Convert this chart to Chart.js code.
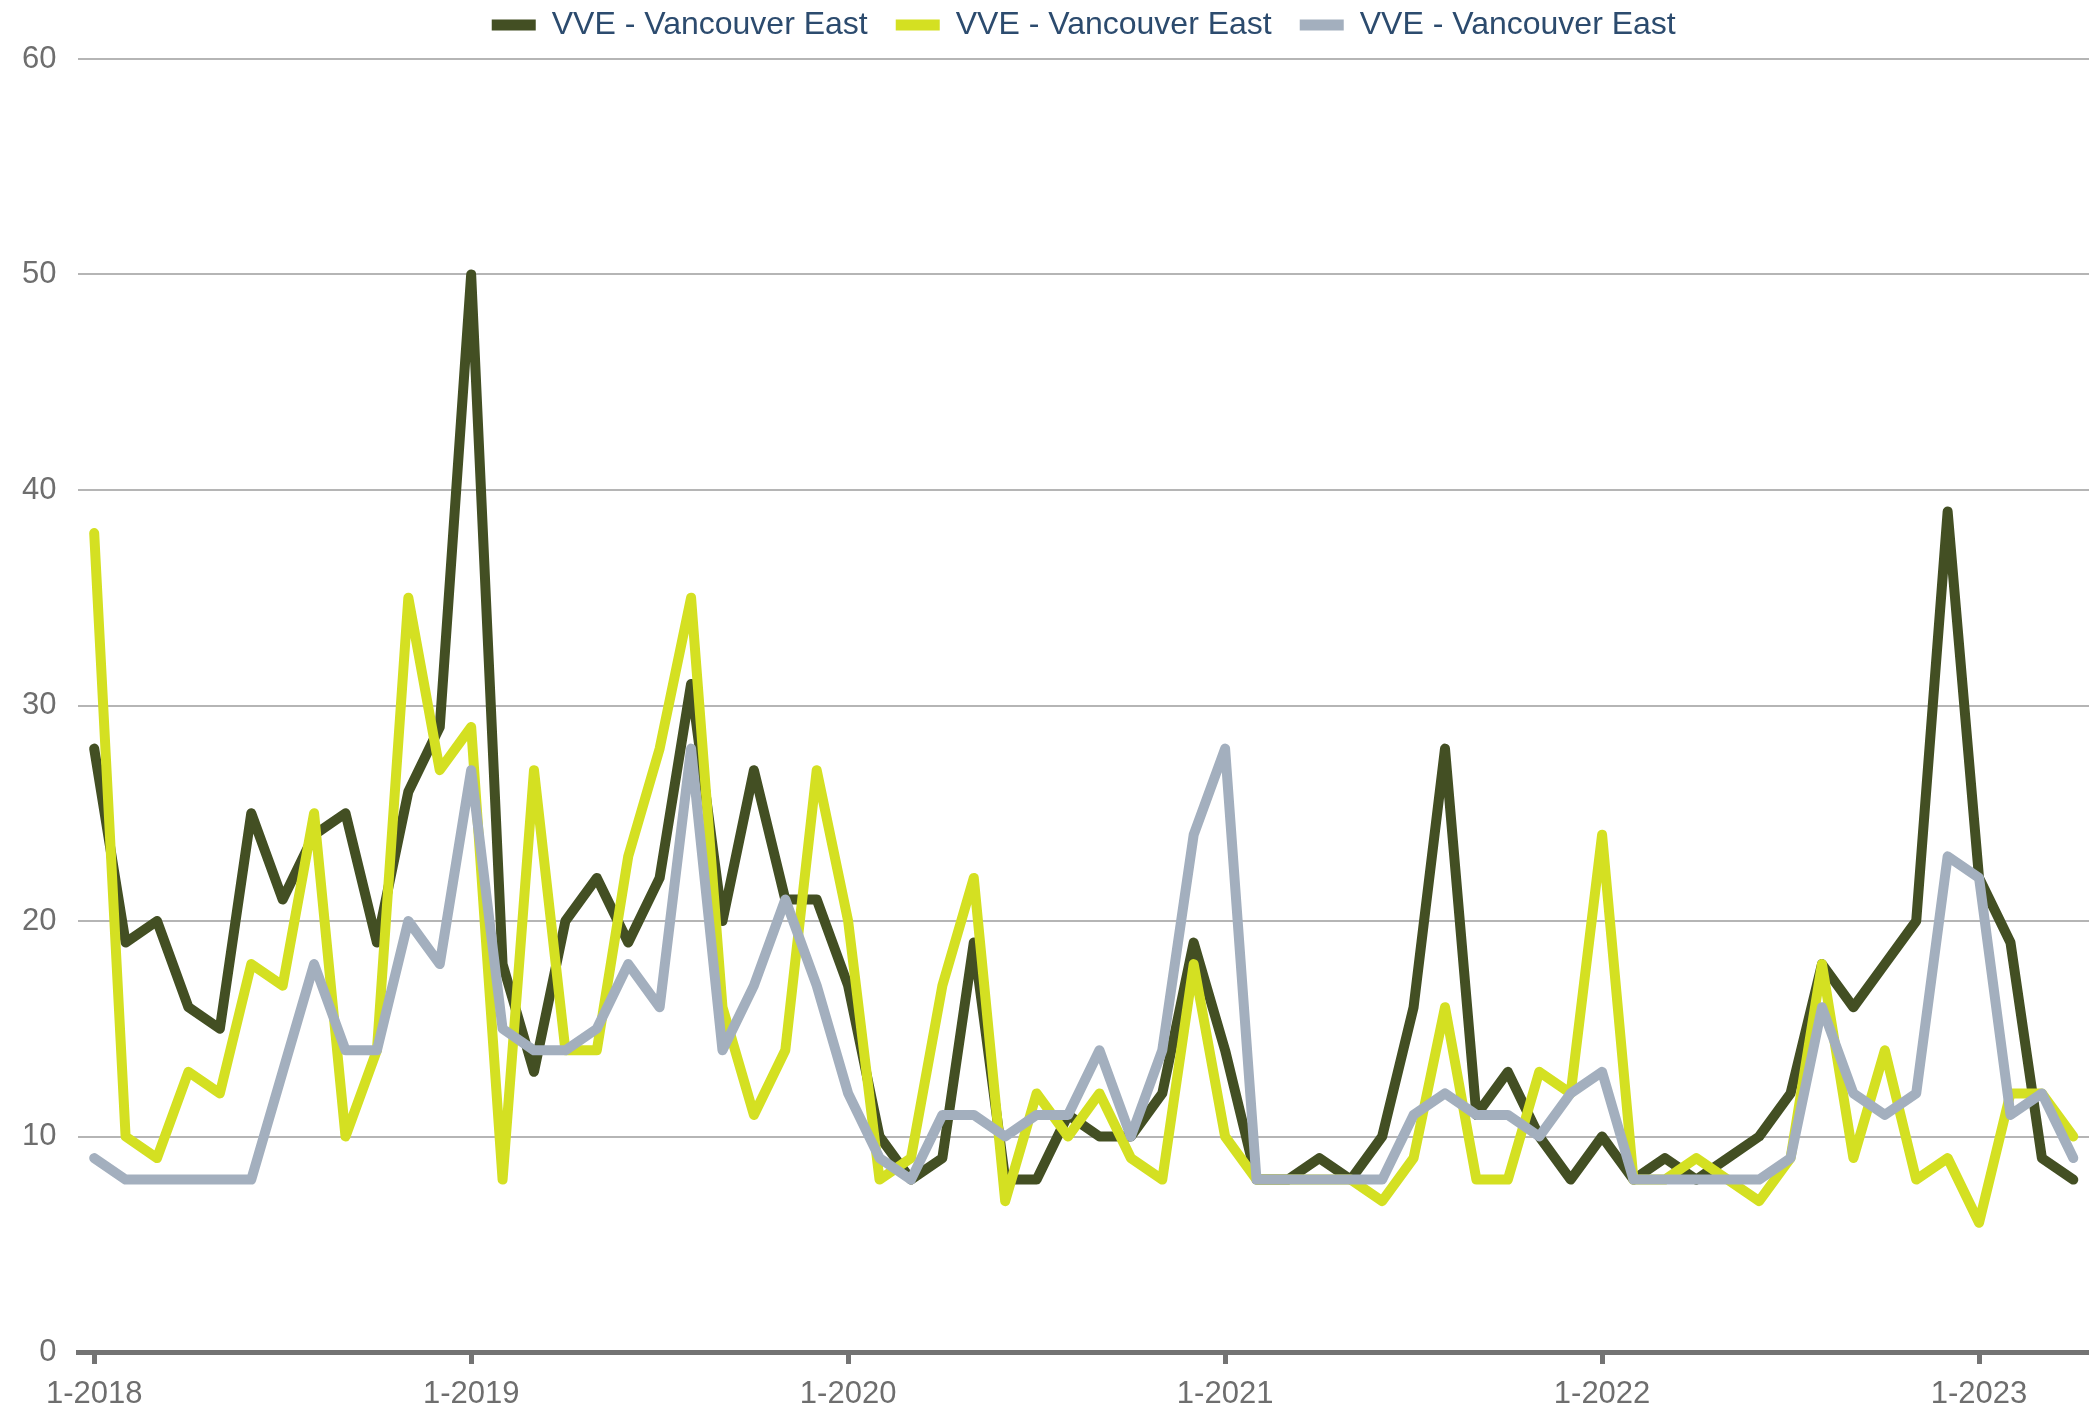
<!DOCTYPE html>
<html>
<head>
<meta charset="utf-8">
<script src="https://cdn.jsdelivr.net/npm/chart.js@4.4.0/dist/chart.umd.min.js"></script>
<style>
  html, body { margin: 0; padding: 0; background: #fff; overflow: hidden; }
  #wrap { width: 2089px; height: 1408px; position: relative; }
</style>
</head>
<body>
<div id="wrap"><canvas id="chart"></canvas></div>
<script>
// monthly labels 1-2018 .. 4-2023
var months = [];
for (var y = 2018; y <= 2023; y++) {
    for (var m = 1; m <= 12; m++) {
        if (y === 2023 && m > 4) break;
        months.push(m + '-' + y);
    }
}

var seriesName = 'VVE - Vancouver East';

var darkValues = [28, 19, 20, 16, 15, 25, 21, 24, 25, 19, 26, 29,
                  50, 18, 13, 20, 22, 19, 22, 31, 20, 27, 21, 21,
                  17, 10, 8, 9, 19, 8, 8, 11, 10, 10, 12, 19,
                  14, 8, 8, 9, 8, 10, 16, 28, 11, 13, 10, 8,
                  10, 8, 9, 8, 9, 10, 12, 18, 16, 18, 20, 39,
                  22, 19, 9, 8];

var limeValues = [38, 10, 9, 13, 12, 18, 17, 25, 10, 14, 35, 27,
                  29, 8, 27, 14, 14, 23, 28, 35, 16, 11, 14, 27,
                  20, 8, 9, 17, 22, 7, 12, 10, 12, 9, 8, 18,
                  10, 8, 8, 8, 8, 7, 9, 16, 8, 8, 13, 12,
                  24, 8, 8, 9, 8, 7, 9, 18, 9, 14, 8, 9,
                  6, 12, 12, 10];

var greyValues = [9, 8, 8, 8, 8, 8, 13, 18, 14, 14, 20, 18,
                  27, 15, 14, 14, 15, 18, 16, 28, 14, 17, 21, 17,
                  12, 9, 8, 11, 11, 10, 11, 11, 14, 10, 14, 24,
                  28, 8, 8, 8, 8, 8, 11, 12, 11, 11, 10, 12,
                  13, 8, 8, 8, 8, 8, 9, 16, 12, 11, 12, 23,
                  22, 11, 12, 9];

var yTicks = [0, 10, 20, 30, 40, 50, 60];

// legend box height fix + center legend over the plot area
const legendTweak = {
    id: 'legendTweak',
    beforeLayout(chart) {
        var lg = chart.legend;
        if (lg && !lg._tweaked) {
            var fit = lg.fit;
            lg.fit = function() { fit.call(this); this.height += 8; };
            lg._tweaked = true;
        }
    },
    afterLayout(chart) {
        if (chart.legend) chart.legend.left = chart.chartArea.left;
    }
};

function line(label, data, color, order) {
    return {
        label: label,
        data: data,
        borderColor: color,
        backgroundColor: color,
        borderWidth: 10,
        pointRadius: 0,
        pointHoverRadius: 0,
        tension: 0,
        fill: false,
        borderJoinStyle: 'round',
        borderCapStyle: 'round',
        order: order
    };
}

var ctx = document.getElementById('chart').getContext('2d');
var chart = new Chart(ctx, {
    type: 'line',
    data: {
        labels: months,
        datasets: [
            line(seriesName, darkValues, '#434f23', 3),
            line(seriesName, limeValues, '#d4e022', 2),
            line(seriesName, greyValues, '#a3afbe', 1)
        ]
    },
    plugins: [legendTweak],
    options: {
        responsive: true,
        maintainAspectRatio: false,
        animation: false,
        devicePixelRatio: 1,
        layout: { padding: { left: 0, right: 0, top: -19, bottom: -17 } },
        plugins: {
            tooltip: { enabled: false },
            legend: {
                position: 'top',
                labels: {
                    boxWidth: 44,
                    boxHeight: 11,
                    padding: 28,
                    color: '#2c4b6e',
                    font: { family: 'Liberation Sans', size: 32 },
                    generateLabels: function(chart) {
                        var items = Chart.defaults.plugins.legend.labels.generateLabels(chart);
                        items.forEach(function(it) { it.lineWidth = 0; it.fillStyle = it.strokeStyle; });
                        return items.sort(function(a, b) { return a.datasetIndex - b.datasetIndex; });
                    }
                }
            }
        },
        scales: {
            x: {
                type: 'category',
                offset: true,
                border: { display: true, color: '#737373', width: 5 },
                grid: {
                    display: true,
                    drawOnChartArea: false,
                    drawTicks: true,
                    tickLength: 12,
                    lineWidth: 5,
                    color: function(c) { return c.index % 12 === 0 ? '#737373' : 'rgba(0,0,0,0)'; }
                },
                ticks: {
                    autoSkip: false,
                    maxRotation: 0,
                    minRotation: 0,
                    padding: 15,
                    color: '#6e6e6e',
                    font: { family: 'Liberation Sans', size: 31, lineHeight: 1 },
                    callback: function(val, idx) { return idx % 12 === 0 ? months[idx] : ''; }
                }
            },
            y: {
                min: yTicks[0],
                max: yTicks[yTicks.length - 1],
                border: { display: false },
                grid: {
                    drawTicks: false,
                    lineWidth: 2,
                    color: function(c) { return c.tick && c.tick.value === 0 ? 'rgba(0,0,0,0)' : '#b5b5b5'; }
                },
                afterBuildTicks: function(axis) {
                    axis.ticks = yTicks.map(function(v) { return { value: v }; });
                },
                ticks: {
                    padding: 22,
                    color: '#6e6e6e',
                    font: { family: 'Liberation Sans', size: 31 }
                }
            }
        }
    }
});
</script>
</body>
</html>
